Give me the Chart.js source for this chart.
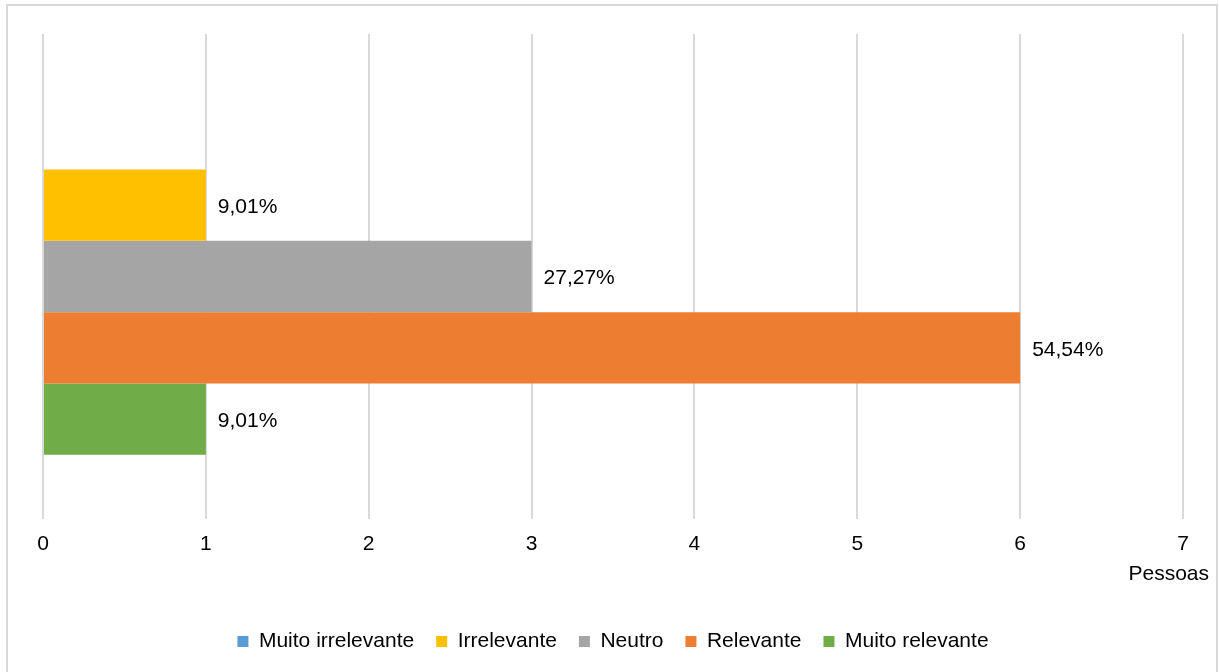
<!DOCTYPE html>
<html lang="pt">
<head>
    <meta charset="UTF-8">
    <title>Pessoas por grau de relevância</title>
    <script src="https://cdn.jsdelivr.net/npm/chart.js"></script>
    <style>
        body {
            margin: 0;
            background: #ffffff;
            overflow: hidden;
        }
        .frame {
            position: absolute;
            left: 6px;
            top: 4px;
            width: 1208px;
            height: 700px;
            border: 2px solid #d9d9d9;
        }
        #barChart {
            position: absolute;
            left: 0;
            top: 0;
        }
    </style>
</head>
<body>
    <div class="frame"></div>
    <canvas id="barChart" width="1219" height="672"></canvas>

    <script>
        // Respostas por grau de relevância (número de pessoas)
        const categorias = [''];
        const series = ['Muito irrelevante', 'Irrelevante', 'Neutro', 'Relevante', 'Muito relevante'];
        const pessoas = [0, 1, 3, 6, 1];
        const percentuais = ['', '9,01%', '27,27%', '54,54%', '9,01%'];
        const cores = ['#5B9BD5', '#FFC000', '#A5A5A5', '#ED7D31', '#70AD47'];
        const ticksX = [0, 1, 2, 3, 4, 5, 6, 7];

        const fonte = "'Liberation Sans', Arial, sans-serif";
        Chart.defaults.font.family = fonte;
        Chart.defaults.font.size = 21;
        Chart.defaults.color = '#000000';

        // Rótulos de percentagem no fim de cada barra + título do eixo
        const rotulos = {
            id: 'rotulos',
            afterDatasetsDraw(chart) {
                const ctx = chart.ctx;
                ctx.save();
                ctx.font = `21px ${fonte}`;
                ctx.fillStyle = '#000000';
                ctx.textBaseline = 'middle';
                ctx.textAlign = 'left';
                chart.data.datasets.forEach((ds, i) => {
                    const texto = percentuais[i];
                    if (!texto) return;
                    chart.getDatasetMeta(i).data.forEach(bar => {
                        ctx.fillText(texto, bar.x + 12, bar.y + 2);
                    });
                });
                // Título do eixo horizontal, alinhado à direita
                const a = chart.chartArea;
                ctx.textAlign = 'right';
                ctx.fillText('Pessoas', a.right + 26, a.bottom + 55);
                ctx.restore();
            }
        };

        const ctx = document.getElementById('barChart').getContext('2d');
        new Chart(ctx, {
            type: 'bar',
            data: {
                labels: categorias,
                datasets: series.map((nome, i) => ({
                    label: nome,
                    data: [pessoas[i]],
                    backgroundColor: cores[i],
                    borderWidth: 0,
                    categoryPercentage: 0.7355,
                    barPercentage: 1
                }))
            },
            options: {
                indexAxis: 'y',
                responsive: false,
                animation: false,
                layout: {
                    padding: { left: 43, right: 36, top: 34, bottom: 10 }
                },
                plugins: {
                    tooltip: { enabled: false },
                    legend: {
                        position: 'bottom',
                        labels: {
                            boxWidth: 11,
                            boxHeight: 11,
                            padding: 22,
                            font: { size: 21 }
                        }
                    }
                },
                scales: {
                    x: {
                        min: 0,
                        max: 7,
                        afterBuildTicks: scale => {
                            scale.ticks = ticksX.map(v => ({ value: v }));
                        },
                        afterFit: scale => {
                            scale.height = 90;
                        },
                        grid: {
                            color: '#d9d9d9',
                            lineWidth: 2,
                            drawTicks: false
                        },
                        border: { display: false },
                        ticks: {
                            padding: 13,
                            font: { size: 21 },
                            color: '#000000'
                        }
                    },
                    y: {
                        display: false
                    }
                }
            },
            plugins: [rotulos]
        });
    </script>
</body>
</html>
